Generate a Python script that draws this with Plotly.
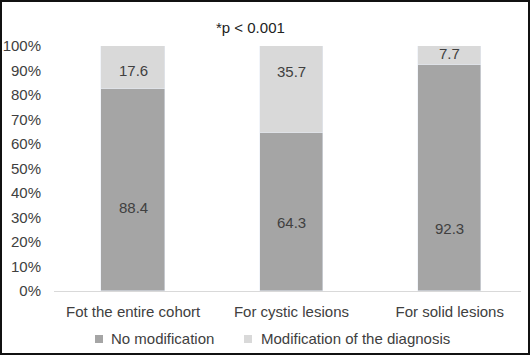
import plotly.graph_objects as go

categories = ["Fot the entire cohort", "For cystic lesions", "For solid lesions"]
series_names = ["No modification", "Modification of the diagnosis"]
no_mod = [82.4, 64.3, 92.3]
mod_diag = [17.6, 35.7, 7.7]
no_mod_labels = ["88.4", "64.3", "92.3"]
mod_diag_labels = ["17.6", "35.7", "7.7"]
# label anchor heights (in % units) as placed in the reference picture
no_mod_label_y = [34.0, 28.0, 25.5]
mod_diag_label_y = [90.2, 89.4, 97.1]

DARK = "#a5a5a5"
LIGHT = "#d9d9d9"
TXT = "#404040"
FONT = "Liberation Sans, Arial, sans-serif"

W, H = 530, 355
L, R, T, B = 54, 9, 46, 64
pw, ph = W - L - R, H - T - B


def px(x):
    return (x - L) / pw


def py(y):
    return (H - B - y) / ph


fig = go.Figure()
fig.add_bar(x=categories, y=no_mod, name=series_names[0], marker_color=DARK,
            width=0.4, hoverinfo="skip", showlegend=False)
fig.add_bar(x=categories, y=mod_diag, name=series_names[1],
            marker_color=LIGHT, width=0.4, hoverinfo="skip", showlegend=False)

for c, t, yy in zip(categories, no_mod_labels, no_mod_label_y):
    fig.add_annotation(x=c, y=yy, text=t, showarrow=False,
                       font=dict(size=15, color=TXT, family=FONT))
for c, t, yy in zip(categories, mod_diag_labels, mod_diag_label_y):
    fig.add_annotation(x=c, y=yy, text=t, showarrow=False,
                       font=dict(size=15, color=TXT, family=FONT))

fig.add_annotation(text="*p < 0.001", xref="paper", yref="paper",
                   x=px(250), y=py(17), showarrow=False,
                   font=dict(size=15, color="#222222", family=FONT))

# legend (drawn manually to match the reference's small swatches)
for name, col, sx, tx in zip(series_names, [DARK, LIGHT], [95, 244], [109, 259]):
    fig.add_shape(type="rect", xref="paper", yref="paper",
                  x0=px(sx), x1=px(sx + 8), y0=py(343), y1=py(335),
                  fillcolor=col, line=dict(width=0))
    fig.add_annotation(text=name, xref="paper", yref="paper", x=px(tx),
                       y=py(338), xanchor="left", yanchor="middle",
                       showarrow=False,
                       font=dict(size=15, color=TXT, family=FONT))

# outer frame
fig.add_shape(type="rect", xref="paper", yref="paper",
              x0=px(1), x1=px(W - 1), y0=py(H - 1), y1=py(1),
              line=dict(color="#111111", width=2), fillcolor="rgba(0,0,0,0)")

fig.update_layout(
    width=W, height=H, barmode="stack",
    margin=dict(l=L, r=R, t=T, b=B, autoexpand=False),
    paper_bgcolor="white", plot_bgcolor="white",
    font=dict(family=FONT, size=15, color=TXT),
    bargap=0,
    showlegend=False,
    xaxis=dict(range=[-0.5, 2.45], showgrid=False, showline=True,
               linecolor="#d9d9d9", linewidth=1, ticks="outside", ticklen=7,
               tickcolor="rgba(0,0,0,0)", tickfont=dict(size=15, color=TXT),
               fixedrange=True, automargin=False),
    yaxis=dict(range=[0, 100], dtick=10, ticksuffix="%", showgrid=False,
               zeroline=False, showline=False, ticks="", ticklabelstandoff=12,
               tickfont=dict(size=15, color=TXT), fixedrange=True,
               automargin=False),
)

fig.write_html("out.html", config={"displayModeBar": False},
               post_script="document.body.style.margin='0';"
                           "document.body.style.overflow='hidden';")
